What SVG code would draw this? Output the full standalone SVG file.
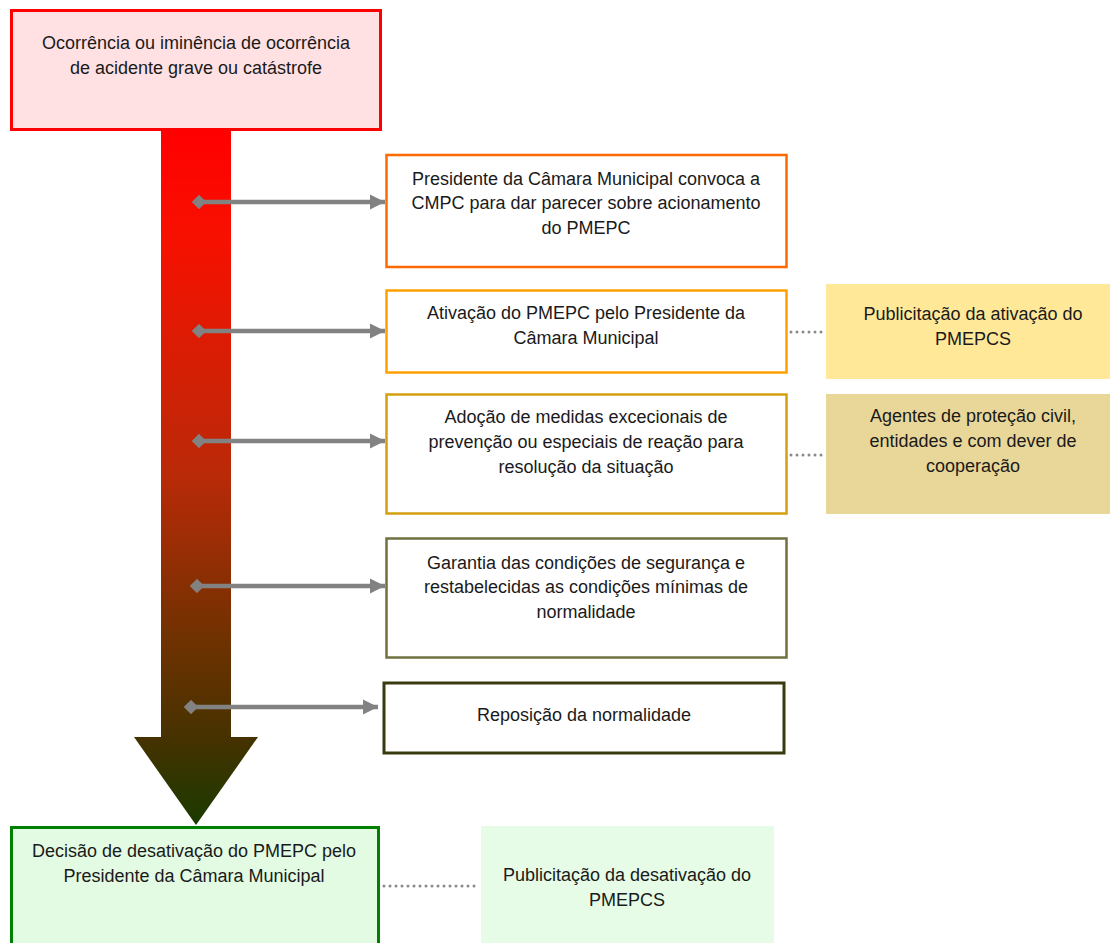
<svg xmlns="http://www.w3.org/2000/svg" width="1110" height="943" viewBox="0 0 1110 943">
<defs>
<linearGradient id="shaft" x1="0" y1="131" x2="0" y2="825" gradientUnits="userSpaceOnUse">
<stop offset="0" stop-color="#FF0000"/>
<stop offset="0.15" stop-color="#F81000"/>
<stop offset="0.5" stop-color="#B82A08"/>
<stop offset="0.75" stop-color="#6A3200"/>
<stop offset="0.88" stop-color="#443200"/>
<stop offset="1" stop-color="#1A3A00"/>
</linearGradient>
<marker id="arr" viewBox="0 0 10 10" refX="10" refY="5" markerWidth="3.4" markerHeight="3.4" orient="auto" markerUnits="strokeWidth">
<path d="M0,0 L10,5 L0,10 Z" fill="#828282"/>
</marker>
<marker id="dia" viewBox="0 0 10 10" refX="5" refY="5" markerWidth="3.2" markerHeight="3.2" orient="auto" markerUnits="strokeWidth">
<path d="M0,5 L5,0 L10,5 L5,10 Z" fill="#828282"/>
</marker>
</defs>
<style>
text{font-family:"Liberation Sans",Arial,sans-serif;font-size:18px;fill:#1a1a1a;text-anchor:middle}
.box{fill:#ffffff}
.conn{stroke:#828282;stroke-width:4.5;fill:none;marker-start:url(#dia);marker-end:url(#arr)}
.dot{stroke:#8a8a8a;stroke-width:3;stroke-dasharray:0 6;stroke-linecap:round;fill:none}
</style>
<g id="big-arrow">
<path d="M161,131 L231,131 L231,737 L258,737 L196,825 L134,737 L161,737 Z" fill="url(#shaft)"/>
</g>
<g id="n-ocorrencia">
<rect x="11.5" y="10.5" width="369" height="119" fill="#FFE1E4" stroke="#FF0000" stroke-width="3"/>
<text x="196" y="49">Ocorrência ou iminência de ocorrência</text>
<text x="196" y="74">de acidente grave ou catástrofe</text>
</g>
<g id="n-convoca">
<rect class="box" x="386.5" y="155" width="400" height="112" stroke="#FF6A00" stroke-width="2.5"/>
<text x="586" y="185">Presidente da Câmara Municipal convoca a</text>
<text x="586" y="209">CMPC para dar parecer sobre acionamento</text>
<text x="586" y="234">do PMEPC</text>
</g>
<g id="n-ativacao">
<rect class="box" x="386.5" y="290.5" width="400" height="82" stroke="#FFA000" stroke-width="2.5"/>
<text x="586" y="319">Ativação do PMEPC pelo Presidente da</text>
<text x="586" y="344">Câmara Municipal</text>
</g>
<g id="n-medidas">
<rect class="box" x="386.5" y="394.5" width="400" height="119" stroke="#D4A010" stroke-width="2.5"/>
<text x="586" y="423">Adoção de medidas excecionais de</text>
<text x="586" y="448">prevenção ou especiais de reação para</text>
<text x="586" y="473">resolução da situação</text>
</g>
<g id="n-garantia">
<rect class="box" x="386.5" y="538.5" width="400" height="119" stroke="#707040" stroke-width="2.5"/>
<text x="586" y="569">Garantia das condições de segurança e</text>
<text x="586" y="593">restabelecidas as condições mínimas de</text>
<text x="586" y="618">normalidade</text>
</g>
<g id="n-reposicao">
<rect class="box" x="384" y="683" width="400" height="70" stroke="#3A3A10" stroke-width="3"/>
<text x="584" y="721">Reposição da normalidade</text>
</g>
<g id="n-pub-ativacao">
<rect x="826" y="284" width="284" height="95" fill="#FFE999"/>
<text x="973" y="320">Publicitação da ativação do</text>
<text x="973" y="345">PMEPCS</text>
</g>
<g id="n-agentes">
<rect x="826" y="394" width="284" height="120" fill="#E9D699"/>
<text x="973" y="422">Agentes de proteção civil,</text>
<text x="973" y="447">entidades e com dever de</text>
<text x="973" y="472">cooperação</text>
</g>
<g id="n-desativacao">
<rect x="11.5" y="827.5" width="367" height="120" fill="#E3FBE3" stroke="#008000" stroke-width="3"/>
<text x="194" y="857">Decisão de desativação do PMEPC pelo</text>
<text x="194" y="882">Presidente da Câmara Municipal</text>
</g>
<g id="n-pub-desativacao">
<rect x="481" y="826" width="293" height="117" fill="#E6FCE6"/>
<text x="627" y="881">Publicitação da desativação do</text>
<text x="627" y="906">PMEPCS</text>
</g>
<g id="connectors">
<line class="conn" x1="199" y1="202" x2="385" y2="202"/>
<line class="conn" x1="199" y1="331" x2="385" y2="331"/>
<line class="conn" x1="199" y1="441" x2="385" y2="441"/>
<line class="conn" x1="197" y1="586" x2="385" y2="586"/>
<line class="conn" x1="191" y1="707" x2="378" y2="707"/>
<line class="dot" x1="791" y1="332" x2="822" y2="332"/>
<line class="dot" x1="791" y1="455" x2="822" y2="455"/>
<line class="dot" x1="384" y1="886" x2="478" y2="886"/>
</g>
</svg>
